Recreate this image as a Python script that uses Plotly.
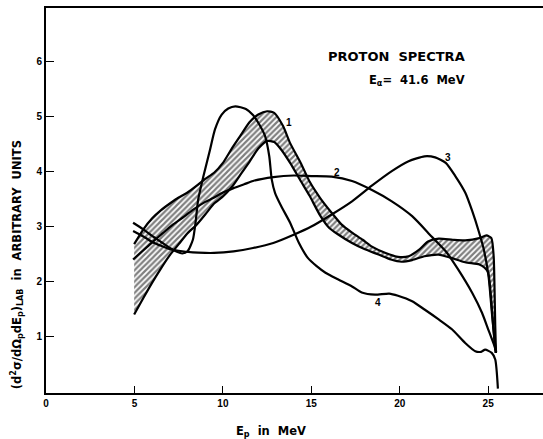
import plotly.graph_objects as go

# ---- data ----
band_upper_x = [4.98, 5.5, 6.0, 6.5, 7.0, 7.5, 8.0, 8.5, 9.0, 9.5, 10.0, 10.5, 11.0, 11.5, 12.0, 12.5, 12.9,
                13.4, 13.8, 14.4, 14.9, 15.5, 16.1, 16.7, 17.3, 17.9, 18.4, 19.2, 19.9, 20.5, 21.1, 21.6,
                22.2, 23.0, 23.7, 24.5, 24.9, 25.18, 25.31, 25.36, 25.4, 25.44]
band_upper_y = [2.68, 2.95, 3.15, 3.30, 3.42, 3.53, 3.62, 3.74, 3.87, 3.98, 4.16, 4.42, 4.66, 4.90, 5.04, 5.10, 5.07,
                4.83, 4.52, 4.16, 3.82, 3.52, 3.27, 3.04, 2.89, 2.76, 2.64, 2.52, 2.45, 2.46, 2.58, 2.73,
                2.78, 2.76, 2.75, 2.79, 2.84, 2.79, 2.46, 1.85, 1.19, 0.70]
band_lower_x = [4.98, 5.5, 6.0, 6.5, 7.0, 7.5, 8.0, 8.5, 9.0, 9.5, 10.0, 10.5, 11.0, 11.5, 12.0, 12.5, 12.9,
                13.3, 13.8, 14.4, 14.9, 15.5, 16.0, 16.5, 17.3, 18.0, 18.8, 19.5, 20.1, 20.7, 21.4, 22.2,
                22.9, 23.7, 24.5, 24.8, 25.0, 25.17, 25.3, 25.42]
band_lower_y = [1.40, 1.70, 1.98, 2.24, 2.48, 2.68, 2.88, 3.03, 3.22, 3.42, 3.55, 3.72, 3.95, 4.18, 4.42, 4.56, 4.54,
                4.40, 4.16, 3.83, 3.56, 3.20, 2.98, 2.86, 2.70, 2.59, 2.49, 2.40, 2.36, 2.39, 2.46, 2.49,
                2.43, 2.35, 2.31, 2.25, 2.16, 1.67, 1.12, 0.70]

curve2_x = [4.92, 5.5, 6.06, 6.6, 7.19, 7.8, 8.32, 9.0, 9.45, 10.0, 10.6, 11.2, 11.7, 12.85, 14.0, 15.0,
            16.15, 17.3, 18.4, 19.55, 20.7, 21.8, 22.6, 23.3, 24.1, 24.65, 25.0, 25.36, 25.45]
curve2_y = [2.40, 2.57, 2.73, 2.88, 3.04, 3.18, 3.31, 3.45, 3.52, 3.62, 3.70, 3.77, 3.83, 3.90, 3.93, 3.92,
            3.91, 3.83, 3.67, 3.46, 3.19, 2.82, 2.55, 2.22, 1.79, 1.43, 1.13, 0.82, 0.72]

curve3_x = [4.92, 5.5, 6.0, 6.5, 7.0, 7.5, 8.3, 9.0, 9.5, 10.6, 11.7, 12.85, 14.0, 15.0, 16.15, 17.3, 18.4,
            19.55, 20.5, 21.4, 22.0, 22.6, 23.14, 23.7, 24.1, 24.46, 24.74, 25.02, 25.21, 25.36, 25.45]
curve3_y = [2.92, 2.82, 2.72, 2.65, 2.59, 2.56, 2.53, 2.52, 2.52, 2.55, 2.61, 2.70, 2.85, 3.00, 3.22, 3.46, 3.74,
            4.01, 4.19, 4.28, 4.26, 4.16, 3.92, 3.62, 3.28, 2.92, 2.60, 2.10, 1.43, 0.94, 0.72]

curve4_x = [4.92, 5.5, 6.0, 6.5, 7.0, 7.4, 7.7, 8.0, 8.3, 8.45, 8.6, 8.9, 9.27, 9.55, 9.93, 10.3, 10.7, 11.3,
            11.7, 12.0, 12.38, 12.62, 12.76, 12.95, 13.3, 13.8, 14.3, 14.8, 15.3, 15.8, 16.5, 17.3, 17.85,
            18.6, 19.4, 19.9, 20.7, 21.4, 22.2, 22.95, 23.7, 24.27, 24.6, 24.83, 25.2, 25.4, 25.55]
curve4_y = [3.07, 2.95, 2.83, 2.72, 2.61, 2.54, 2.51, 2.55, 2.76, 3.07, 3.49, 3.92, 4.40, 4.77, 5.04, 5.15, 5.19, 5.14,
            5.03, 4.89, 4.65, 4.28, 3.86, 3.61, 3.37, 3.07, 2.70, 2.43, 2.28, 2.16, 2.04, 1.91, 1.80,
            1.76, 1.78, 1.74, 1.64, 1.49, 1.31, 1.13, 0.88, 0.73, 0.72, 0.76, 0.70, 0.58, 0.05]

curve_labels = ["1", "2", "3", "4"]
label_x = [13.76, 16.45, 22.7, 18.75]
label_y = [4.9, 3.98, 4.26, 1.62]

x_tick_vals = [0, 5, 10, 15, 20, 25]
x_tick_text = ["0", "5", "10", "15", "20", "25"]
y_tick_vals = [1, 2, 3, 4, 5, 6]
y_tick_text = ["1", "2", "3", "4", "5", "6"]

FONT = "Liberation Sans"
line_style = dict(color="black", width=2.2, shape="spline", smoothing=0.6)

fig = go.Figure()

# hatched band (curve 1)
fig.add_trace(go.Scatter(
    x=band_upper_x + band_lower_x[::-1],
    y=band_upper_y + band_lower_y[::-1],
    mode="lines", fill="toself", line=dict(width=0, shape="spline", smoothing=0.6),
    fillcolor="white",
    fillpattern=dict(shape="/", fgcolor="black", bgcolor="white", size=4, solidity=0.55),
    hoverinfo="skip", showlegend=False))
fig.add_trace(go.Scatter(x=band_upper_x, y=band_upper_y, mode="lines", line=line_style, showlegend=False))
fig.add_trace(go.Scatter(x=band_lower_x, y=band_lower_y, mode="lines", line=line_style, showlegend=False))
fig.add_trace(go.Scatter(x=curve2_x, y=curve2_y, mode="lines", line=line_style, showlegend=False))
fig.add_trace(go.Scatter(x=curve3_x, y=curve3_y, mode="lines", line=line_style, showlegend=False))
fig.add_trace(go.Scatter(x=curve4_x, y=curve4_y, mode="lines", line=line_style, showlegend=False))

annotations = []
for t, lx, ly in zip(curve_labels, label_x, label_y):
    annotations.append(dict(x=lx, y=ly, xref="x", yref="y", text=t, showarrow=False,
                            font=dict(family=FONT, size=10, color="black", weight="bold")))

annotations.append(dict(x=23.8, y=6.1, xref="x", yref="y", xanchor="right", yanchor="middle",
                        text="PROTON  SPECTRA", showarrow=False,
                        font=dict(family="DejaVu Sans", size=13, color="black", weight="bold")))
annotations.append(dict(x=23.8, y=5.66, xref="x", yref="y", xanchor="right", yanchor="middle",
                        text="E<sub>α</sub>=  41.6  MeV", showarrow=False,
                        font=dict(family="DejaVu Sans", size=11.5, color="black", weight="bold")))
annotations.append(dict(x=12.7, y=-0.1, xref="x", yref="paper", xanchor="center", yanchor="middle",
                        text="E<sub>p</sub>  in  MeV", showarrow=False,
                        font=dict(family="DejaVu Sans", size=11.5, color="black", weight="bold")))
annotations.append(dict(x=-0.058, y=2.3, xref="paper", yref="y", xanchor="center", yanchor="middle",
                        textangle=-90,
                        text="(d<sup>2</sup>σ/dΩ<sub>p</sub>dE<sub>p</sub>)<sub>LAB</sub>  in  ARBITRARY  UNITS",
                        showarrow=False,
                        font=dict(family="DejaVu Sans", size=11.5, color="black", weight="bold")))

fig.update_layout(
    width=543, height=439,
    margin=dict(l=46, r=0, t=8, b=46),
    paper_bgcolor="white", plot_bgcolor="white",
    annotations=annotations,
    showlegend=False,
)
fig.update_xaxes(range=[-0.005, 28.1], tickvals=x_tick_vals, ticktext=x_tick_text,
                 ticks="inside", ticklen=7, tickwidth=1.2, tickcolor="black",
                 showline=True, linecolor="black", linewidth=2, mirror=True,
                 showgrid=False, zeroline=False,
                 tickfont=dict(family=FONT, size=10, color="black", weight="bold"))
fig.update_yaxes(range=[-0.03, 6.98], tickvals=y_tick_vals, ticktext=y_tick_text,
                 ticks="inside", ticklen=8, tickwidth=1.2, tickcolor="black",
                 showline=True, linecolor="black", linewidth=2, mirror=False,
                 showgrid=False, zeroline=False,
                 tickfont=dict(family=FONT, size=10, color="black", weight="bold"))

fig.write_html("out.html")
